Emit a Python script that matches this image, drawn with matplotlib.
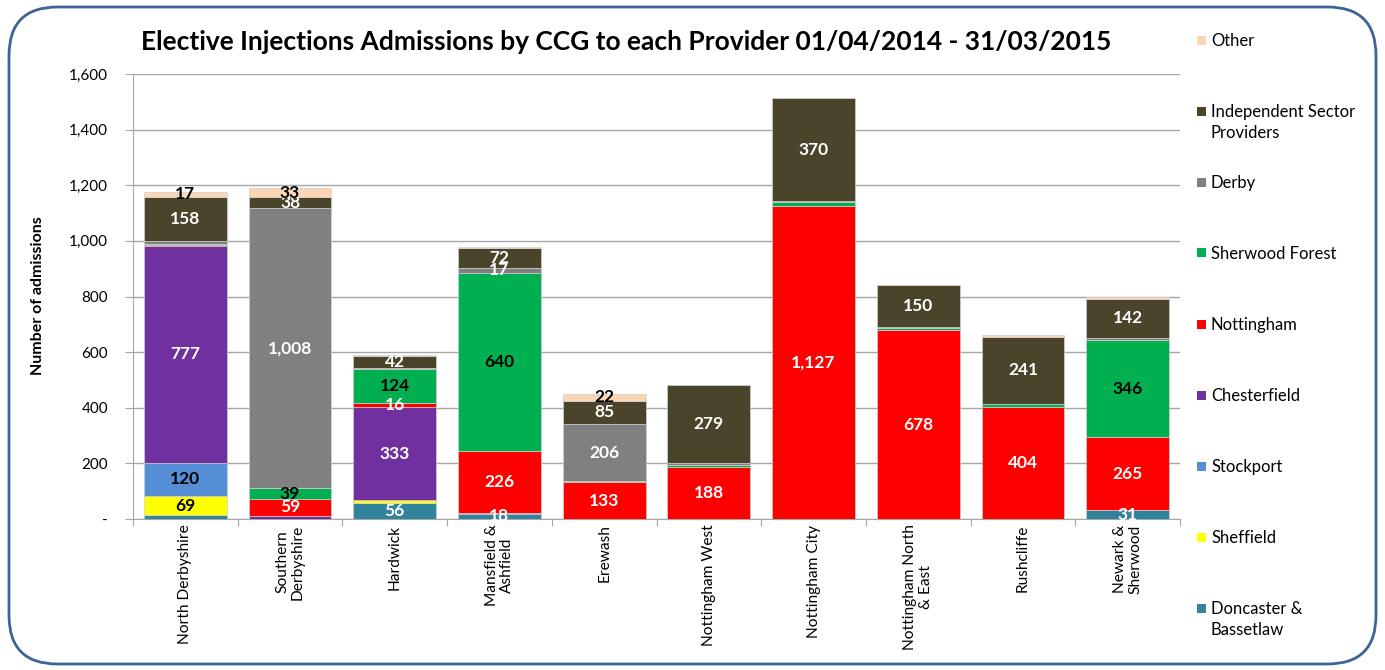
import matplotlib
matplotlib.use("Agg")
import matplotlib.pyplot as plt
import numpy as np
from matplotlib.patches import FancyBboxPatch, Rectangle
from matplotlib.ticker import FuncFormatter

plt.rcParams['font.family'] = ['Lato', 'DejaVu Sans']

categories = ["North Derbyshire", "Southern\nDerbyshire", "Hardwick", "Mansfield &\nAshfield",
              "Erewash", "Nottingham West", "Nottingham City", "Nottingham North\n& East",
              "Rushcliffe", "Newark &\nSherwood"]

series_names = ["Doncaster &\nBassetlaw", "Sheffield", "Stockport", "Chesterfield", "Nottingham",
                "Sherwood Forest", "Derby", "Independent Sector\nProviders", "Other"]

doncaster = [14, 0, 56, 18, 0, 0, 0, 0, 0, 31]
sheffield = [69, 0, 12, 0, 0, 0, 0, 0, 0, 0]
stockport = [120, 0, 0, 0, 0, 0, 0, 0, 0, 0]
chesterfield = [777, 12, 333, 2, 0, 0, 0, 0, 0, 0]
nottingham = [5, 59, 16, 226, 133, 188, 1127, 678, 404, 265]
sherwood = [2, 39, 124, 640, 2, 5, 12, 10, 8, 346]
derby = [14, 1008, 3, 17, 206, 10, 3, 3, 2, 8]
independent = [158, 38, 42, 72, 85, 279, 370, 150, 241, 142]
other = [17, 33, 2, 2, 22, 1, 3, 1, 5, 5]

series_values = [doncaster, sheffield, stockport, chesterfield, nottingham,
                 sherwood, derby, independent, other]
colors = ["#31849B", "#FFFF00", "#558ED5", "#7030A0", "#FF0000",
          "#00B050", "#808080", "#4A452A", "#FCD5B5"]
label_colors = ["white", "black", "black", "white", "white", "black", "white", "white", "black"]

W, H = 1385, 670
fig = plt.figure(figsize=(W / 100, H / 100), dpi=100)

# rounded border
border = FancyBboxPatch((9 / W, 6 / H), 1367 / W, 657 / H,
                        boxstyle="round,pad=0,rounding_size=0.035",
                        transform=fig.transFigure, fill=False,
                        edgecolor="#3C6497", linewidth=2.0, mutation_aspect=W / H)
fig.patches.append(border)

left, right, top, bottom = 133, 1180, 74, 519
ax = fig.add_axes([left / W, 1 - bottom / H, (right - left) / W, (bottom - top) / H])

x = np.arange(len(categories))
base = np.zeros(len(categories))
for vals, name, col, lcol in zip(series_values, series_names, colors, label_colors):
    vals = np.array(vals, dtype=float)
    ax.bar(x, vals, bottom=base, width=0.79, color=col, edgecolor="#D0D0D0",
           linewidth=0.5, label=name, zorder=3)
    for xi, v, b in zip(x, vals, base):
        if v >= 16:
            ax.text(xi, b + v / 2, f"{int(v):,}", ha="center", va="center",
                    color=lcol, fontsize=12.5, fontweight="bold", zorder=4)
    base += vals

ax.set_xlim(-0.5, len(categories) - 0.5)
ax.set_ylim(0, 1600)
ax.set_yticks(np.arange(0, 1601, 200))
ax.yaxis.set_major_formatter(FuncFormatter(lambda v, p: "-" if v == 0 else f"{int(v):,}"))
ax.grid(axis="y", color="#A6A6A6", linewidth=1.0, zorder=0)
ax.set_axisbelow(True)
for s in ["top", "right"]:
    ax.spines[s].set_visible(False)
for s in ["left", "bottom"]:
    ax.spines[s].set_color("#A6A6A6")
ax.tick_params(axis="y", direction="out", length=6, color="#A6A6A6", labelsize=11, pad=12)
ax.set_xticks(np.arange(-0.5, len(categories), 1.0))
ax.set_xticklabels([])
ax.tick_params(axis="x", which="major", direction="out", length=5, color="#A6A6A6")
ax.set_xticks(x, minor=True)
ax.set_xticklabels(categories, minor=True, rotation=90, fontsize=11.2, va="top", ha="center",
                   multialignment="center", linespacing=1.15)
ax.tick_params(axis="x", which="minor", length=0, pad=4)

fig.text(38 / W, 1 - 296 / H, "Number of admissions", rotation=90, ha="center", va="center",
         fontsize=11.5, fontweight="bold")
fig.text(626 / W, 1 - 42 / H,
         "Elective Injections Admissions by CCG to each Provider 01/04/2014 - 31/03/2015",
         ha="center", va="center", fontsize=19, fontweight="bold")

# legend (Other at top)
for i, (name, col) in enumerate(zip(series_names[::-1], colors[::-1])):
    yc = 40 + 71 * i
    fig.patches.append(Rectangle((1197 / W, 1 - (yc + 4.5) / H), 9 / W, 9 / H,
                                 transform=fig.transFigure, facecolor=col, edgecolor="none"))
    fig.text(1211 / W, 1 - (yc - 7) / H, name, ha="left", va="top", fontsize=12,
             linespacing=1.4)

fig.savefig("out.png", dpi=100)
